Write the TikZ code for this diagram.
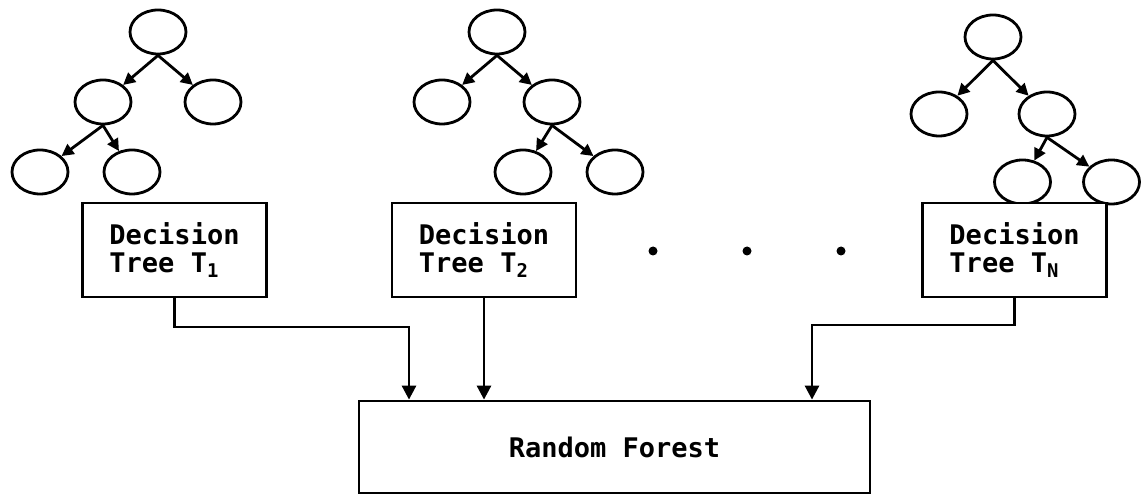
\documentclass[tikz,border=0pt]{standalone}
\usepackage{fontspec}
\setmonofont{DejaVu Sans Mono}
\usetikzlibrary{shapes.geometric,arrows.meta}

\begin{document}
\begin{tikzpicture}[x=1pt, y=1pt, line width=2.8pt, >={Triangle[length=14pt,width=14pt]},
        parent anchor=south, level distance=70pt,
        level 1/.style={sibling distance=110pt},
        level 2/.style={sibling distance=92pt},
        edge from parent/.style={draw,-{Triangle[length=12pt,width=12pt]}}]
      \tikzstyle{leaf} = [ellipse, draw, minimum width=56pt, minimum height=44pt, inner sep=0pt]
      \tikzstyle{word} = [font=\ttfamily\bfseries\fontsize{27}{28}\selectfont, color=black]
      \tikzstyle{treebox} = [word, rectangle, draw, fill=white, minimum width=184pt,
        minimum height=94pt, align=left]
      \useasboundingbox (0,0) rectangle (1142,495);
      % first tree
      \node (a0) [leaf] at (158,463) {}
        child {node (a1) [leaf] {}
          child[xshift=-17pt] {node (a3) [leaf] {}}
          child[xshift=-17pt] {node (a4) [leaf] {}}}
        child {node (a2) [leaf] {}};
      % second tree
      \node (b0) [leaf] at (497,463) {}
        child {node (b1) [leaf] {}}
        child {node (b2) [leaf] {}
          child[xshift=17pt] {node (b3) [leaf] {}}
          child[xshift=17pt] {node (b4) [leaf] {}}};
      % last tree
      \begin{scope}[level 1/.style={sibling distance=108pt, level distance=77pt},
          level 2/.style={sibling distance=89pt, level distance=68pt}]
      \node (c0) [leaf] at (993,458) {}
        child {node (c1) [leaf] {}}
        child {node (c2) [leaf] {}
          child[xshift=20pt] {node (c3) [leaf] {}}
          child[xshift=20pt] {node (c4) [leaf] {}}};
      \end{scope}
      % boxes
      \node (tree1) [treebox] at (174.5,245) {Decision\\Tree T\textsubscript{1}};
      \node (tree2) [treebox] at (484,245) {Decision\\Tree T\textsubscript{2}};
      \node (treeN) [treebox] at (1014.5,245) {Decision\\Tree T\textsubscript{N}};
      \node (forest) [word, rectangle, draw, minimum width=511pt, minimum height=92pt]
        at (614.5,48) {Random Forest};
      \foreach \x in {653,747,841}
        \fill (\x,244) circle (4.5pt);
      % connectors
      \coordinate (k1) at (409,168);
      \coordinate (k3) at (812,170);
      \draw[->] (tree1.south) |- (k1) -- (k1 |- forest.north);
      \draw[->] (tree2.south) -- (tree2.south |- forest.north);
      \draw[->] (treeN.south) |- (k3) -- (k3 |- forest.north);
    \end{tikzpicture}
\end{document}
